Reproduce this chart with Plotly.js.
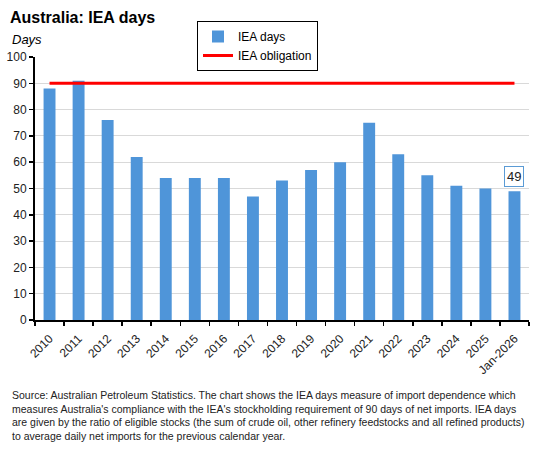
<!DOCTYPE html>
<html>
<head>
<meta charset="utf-8">
<script src="https://cdn.plot.ly/plotly-3.0.1.min.js"></script>
<style>html,body{margin:0;padding:0;background:#fff;}#chart{width:548px;height:454px;}</style>
</head>
<body>
<div id="chart"></div>
<script>
var categories = ["2010","2011","2012","2013","2014","2015","2016","2017","2018","2019","2020","2021","2022","2023","2024","2025","Jan-2026"];
var ieaDays = [88, 91, 76, 62, 54, 54, 54, 47, 53, 57, 60, 75, 63, 55, 51, 50, 49];
var ieaObligation = [90, 90, 90, 90, 90, 90, 90, 90, 90, 90, 90, 90, 90, 90, 90, 90, 90];
var yTicks = [0, 10, 20, 30, 40, 50, 60, 70, 80, 90, 100];

var sourceText = "Source: Australian Petroleum Statistics. The chart shows the IEA days measure of import dependence which<br>" +
  "measures Australia's compliance with the IEA's stockholding requirement of 90 days of net imports. IEA days<br>" +
  "are given by the ratio of eligible stocks (the sum of crude oil, other refinery feedstocks and all refined products)<br>" +
  "to average daily net imports for the previous calendar year.";

var lastIdx = categories.length - 1;

var traces = [
  {
    type: "bar", name: "IEA days", x: categories, y: ieaDays,
    marker: {color: "#4F95D9"}, hoverinfo: "x+y"
  },
  {
    type: "scatter", mode: "lines", name: "IEA obligation", x: categories, y: ieaObligation,
    line: {color: "#FF0000", width: 3}
  }
];

var layout = {
  width: 548, height: 454,
  margin: {l: 35, r: 19, t: 57, b: 134},
  paper_bgcolor: "#fff", plot_bgcolor: "#fff",
  bargap: 0.59,
  font: {family: "Liberation Sans, Arial, sans-serif", size: 12, color: "#222"},
  title: {
    text: "<b>Australia: IEA days</b>",
    font: {family: "Liberation Sans, Arial, sans-serif", size: 16, color: "#000"},
    xref: "container", yref: "container", x: 10/548, xanchor: "left",
    y: 1 - 17/454, yanchor: "middle"
  },
  xaxis: {
    type: "category", range: [-0.5, 16.5], tickangle: -45,
    tickson: "boundaries", ticks: "outside", ticklen: 4, tickwidth: 1.5, tickcolor: "#000",
    ticklabelstandoff: 5,
    showline: true, linecolor: "#000", linewidth: 2, showgrid: false,
    tickfont: {size: 12, color: "#222"}, fixedrange: true
  },
  yaxis: {
    range: [0, 100], tickvals: yTicks, ticks: "outside", ticklen: 4, tickwidth: 1.5, tickcolor: "#000",
    showline: true, linecolor: "#000", linewidth: 2,
    showgrid: true, gridcolor: "#D9D9D9", gridwidth: 1, zeroline: false,
    tickfont: {size: 12, color: "#222"}, fixedrange: true
  },
  showlegend: true,
  legend: {
    x: (197 - 35) / 494, xanchor: "left", y: (320 - 21) / 263, yanchor: "top",
    bgcolor: "#fff", bordercolor: "#000", borderwidth: 1,
    font: {size: 12, color: "#000"}, tracegroupgap: 4
  },
  annotations: [
    {
      x: categories[lastIdx], y: ieaDays[lastIdx], xref: "x", yref: "y",
      text: String(ieaDays[lastIdx]), showarrow: false, yanchor: "bottom", yshift: 4,
      bordercolor: "#5B9BD5", borderwidth: 1, borderpad: 2, bgcolor: "#fff",
      font: {size: 13, color: "#222"}
    },
    {
      text: "<i>Days</i>", xref: "paper", yref: "paper",
      x: (10 - 35) / 494, xanchor: "left", y: (320 - 39) / 263, yanchor: "middle",
      showarrow: false, font: {size: 13, color: "#000"}
    },
    {
      text: sourceText, xref: "paper", yref: "paper", align: "left",
      x: (10 - 35) / 494, xanchor: "left", y: (320 - 387) / 263, yanchor: "top",
      showarrow: false, font: {family: "Liberation Sans, Arial, sans-serif", size: 10.5, color: "#222"}
    }
  ]
};

Plotly.newPlot("chart", traces, layout, {displayModeBar: false, staticPlot: true});
</script>
</body>
</html>
